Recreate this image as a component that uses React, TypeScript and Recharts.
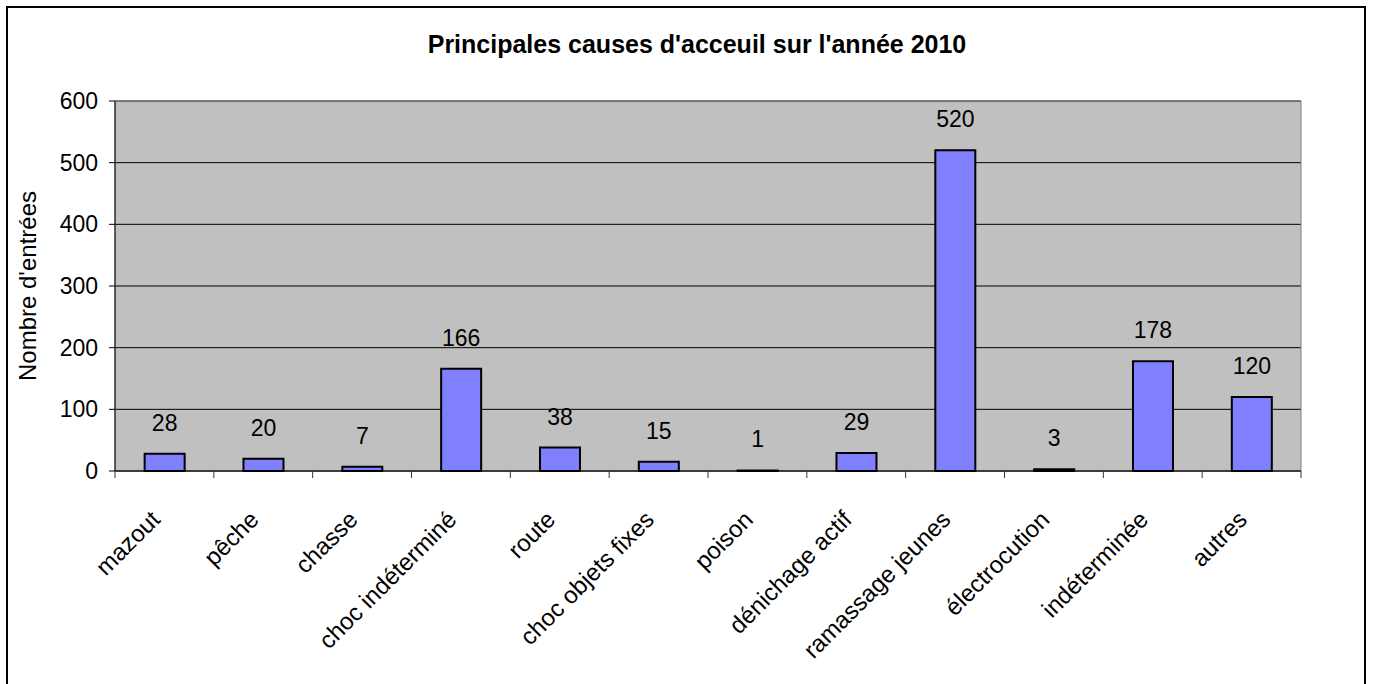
import React from 'react';
import { BarChart, Bar, XAxis, YAxis, CartesianGrid, LabelList, ReferenceArea } from 'recharts';

const causes = [
  'mazout',
  'pêche',
  'chasse',
  'choc indéterminé',
  'route',
  'choc objets fixes',
  'poison',
  'dénichage actif',
  'ramassage jeunes',
  'électrocution',
  'indéterminée',
  'autres',
];
const entrees = [28, 20, 7, 166, 38, 15, 1, 29, 520, 3, 178, 120];
const yTicks = [0, 100, 200, 300, 400, 500, 600];

const data = causes.map((cause, i) => ({ cause, entrees: entrees[i] }));

const FONT = '"Liberation Sans", Arial, sans-serif';
const W = 1373;
const H = 684;
const margin = { top: 101, right: 72, left: 0, bottom: 0 };
const yAxisWidth = 115;
const xAxisHeight = 213;
const band = (W - margin.left - margin.right - yAxisWidth) / causes.length;

// ticks sit between categories (excel style), label rotated under the centre
const CategoryTick = (props: any) => {
  const { x, y, payload, index } = props;
  const half = band / 2;
  const tx = x - 3;
  const ty = y + 50;
  return (
    <g>
      <line x1={x - half} y1={y} x2={x - half} y2={y + 7} stroke="#333" />
      {index === causes.length - 1 && (
        <line x1={x + half} y1={y} x2={x + half} y2={y + 7} stroke="#333" />
      )}
      <text
        x={tx}
        y={ty}
        transform={`rotate(-45, ${tx}, ${ty})`}
        textAnchor="end"
        fontSize={24}
        fontFamily={FONT}
        fill="#000"
      >
        {payload.value}
      </text>
    </g>
  );
};

export default function App() {
  return (
    <div
      style={{
        position: 'absolute',
        left: 0,
        top: 0,
        width: W,
        height: H,
        overflow: 'hidden',
        background: '#fff',
        fontFamily: FONT,
      }}
    >
      <div
        style={{
          position: 'absolute',
          left: 6,
          top: 6,
          width: 1360,
          height: 720,
          border: '2px solid #000',
          boxSizing: 'border-box',
        }}
      />
      <div
        style={{
          position: 'absolute',
          left: 297,
          top: 32,
          width: 800,
          textAlign: 'center',
          fontSize: 25,
          lineHeight: '25px',
          fontWeight: 'bold',
          color: '#000',
        }}
      >
        Principales causes d'acceuil sur l'année 2010
      </div>
      <div
        style={{
          position: 'absolute',
          left: 28 - 150,
          top: 286 - 14,
          width: 300,
          height: 28,
          lineHeight: '28px',
          textAlign: 'center',
          fontSize: 24,
          color: '#000',
          transform: 'rotate(-90deg)',
        }}
      >
        Nombre d'entrées
      </div>
      <div style={{ position: 'absolute', left: 0, top: 0 }}>
        <BarChart width={W} height={H} data={data} margin={margin} barCategoryGap="30%">
          <CartesianGrid vertical={false} stroke="#000" fill="#C0C0C0" />
          <ReferenceArea y1={0} y2={600} fill="none" stroke="#808080" strokeWidth={1} />
          <XAxis
            dataKey="cause"
            height={xAxisHeight}
            interval={0}
            tickSize={0}
            tickMargin={0}
            tickLine={false}
            axisLine={{ stroke: '#000' }}
            tick={<CategoryTick />}
          />
          <YAxis
            width={yAxisWidth}
            domain={[0, 600]}
            ticks={yTicks}
            interval={0}
            tickSize={6}
            tickMargin={11}
            axisLine={{ stroke: '#000' }}
            tickLine={{ stroke: '#000' }}
            tick={{ fontSize: 23, fill: '#000', fontFamily: FONT }}
          />
          <Bar dataKey="entrees" fill="#8080FF" stroke="#000" strokeWidth={2} isAnimationActive={false}>
            <LabelList dataKey="entrees" position="top" offset={23} fill="#000" fontSize={23} fontFamily={FONT} />
          </Bar>
        </BarChart>
      </div>
    </div>
  );
}
